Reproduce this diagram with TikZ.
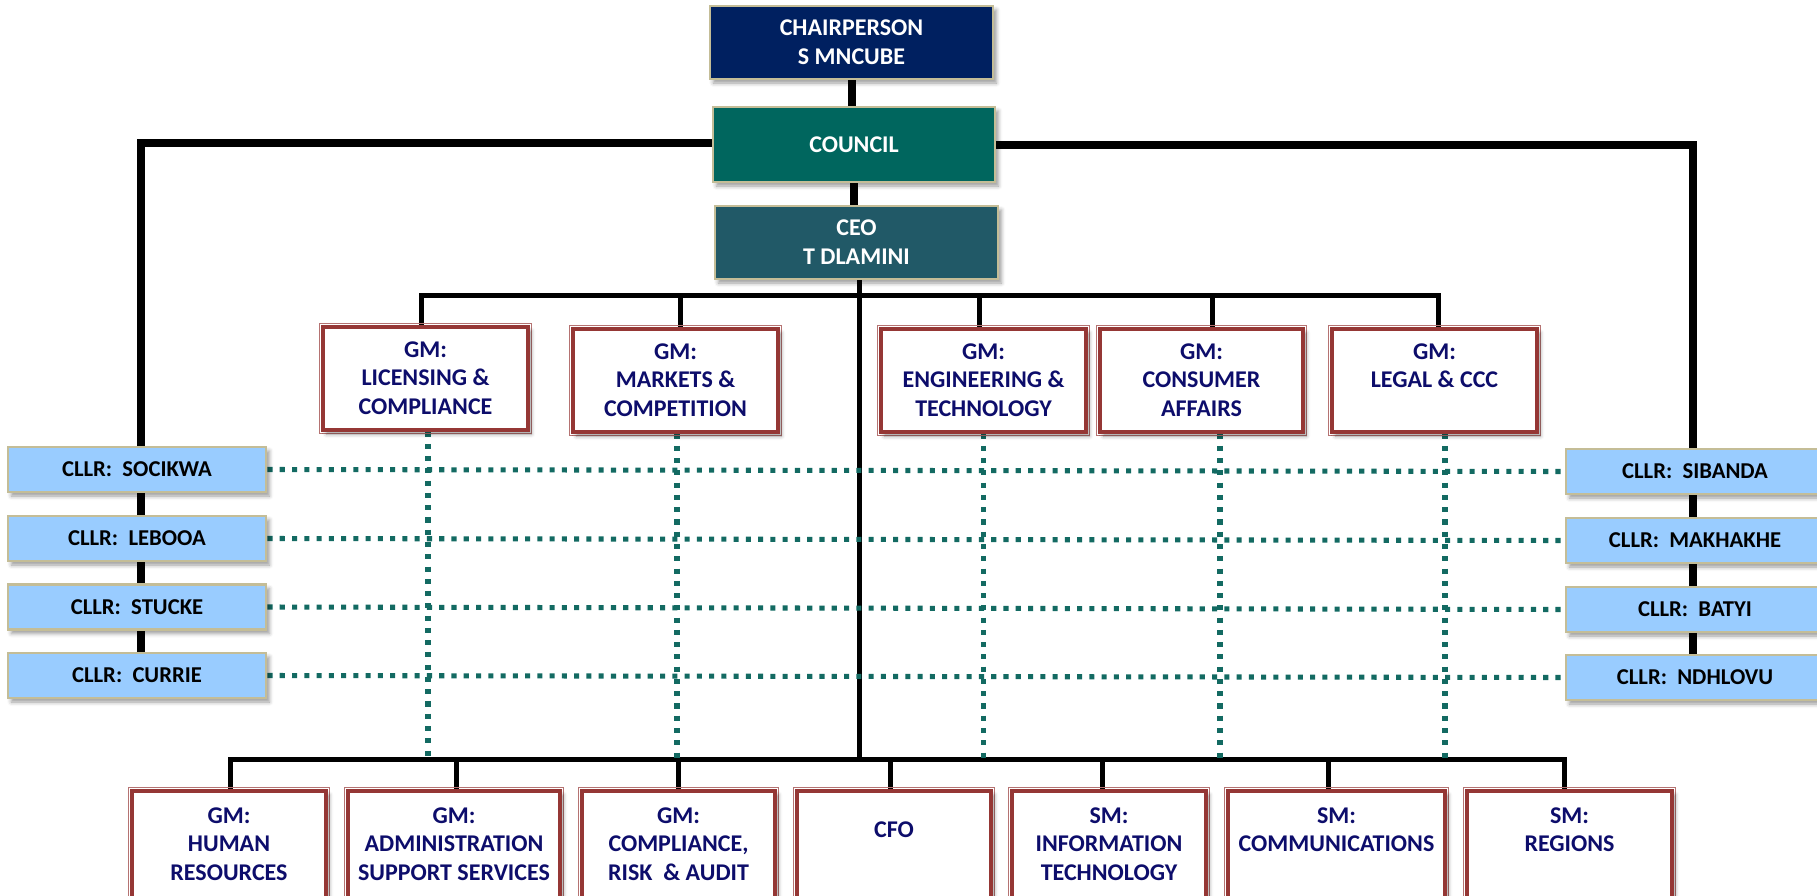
\documentclass[tikz,border=0pt]{standalone}
\usepackage{fontspec}
\setmainfont{Carlito}
\usetikzlibrary{shadows.blur}
\definecolor{chairc}{HTML}{002060}
\definecolor{councilc}{HTML}{00665E}
\definecolor{ceoc}{HTML}{215967}
\definecolor{tanc}{HTML}{C4BD97}
\definecolor{cllrc}{HTML}{99CCFF}
\definecolor{gmred}{HTML}{953735}
\definecolor{gmtxt}{HTML}{0D0D6B}
\definecolor{dotc}{HTML}{136A62}
\pgfdeclarelayer{bg}
\pgfsetlayers{bg,main}
\begin{document}
\begin{tikzpicture}[x=0.75pt,y=-0.75pt,
 sz/.style 2 args={minimum width=#1*0.75pt, minimum height=#2*0.75pt},
 shad/.style={blur shadow={shadow xshift=2.5pt, shadow yshift=-3pt, shadow blur radius=3pt, shadow opacity=40}},
 topbox/.style={shad, draw=tanc, line width=2.2pt, inner sep=0pt, text=white, font=\fontsize{18}{21.75}\selectfont\bfseries, align=center},
 cllr/.style={shad, draw=tanc, line width=2.2pt, fill=cllrc, inner sep=0pt, sz={258}{45}, font=\fontsize{17}{19}\selectfont\bfseries},
 gmbox/.style={shad, draw=gmred, fill=white, line width=2.4pt, inner sep=0pt,
   append after command={\pgfextra{\draw[gmred!70, line width=0.6pt]
     ([shift={(-1.7pt,-1.7pt)}]\tikzlastnode.south west) rectangle ([shift={(1.7pt,1.7pt)}]\tikzlastnode.north east);}}},
 gmtext/.style={text=gmtxt, font=\fontsize{18}{21.4}\selectfont\bfseries, align=center, inner sep=0pt, anchor=north},
 thickline/.style={line width=6pt, black, line join=miter},
 busline/.style={line width=3.75pt, black, line cap=rect},
 dots/.style={dotc, line width=3.8pt, dash pattern=on 3.8pt off 5.4pt}
]
\useasboundingbox (0,0) rectangle (1817,896);

% top boxes
\node[topbox, fill=chairc, sz={283}{73}] (chair) at (851.5,42.5) {CHAIRPERSON\\S MNCUBE};
\node[topbox, fill=councilc, sz={282}{75}] (council) at (854,144.5) {COUNCIL};
\node[topbox, fill=ceoc, sz={283}{73}] (ceo) at (856.5,242.5) {CEO\\T DLAMINI};

% upper GM boxes
\node[gmbox, sz={205}{103}] (lic) at (425.5,378.5) {};
\node[gmbox, sz={205}{103}] (mkt) at (675.5,380.5) {};
\node[gmbox, sz={205}{103}] (eng) at (983.5,380.5) {};
\node[gmbox, sz={203}{103}] (con) at (1201.5,380.5) {};
\node[gmbox, sz={205}{103}] (leg) at (1434.5,380.5) {};
\node[gmtext] (lict) at ([yshift=-12pt]lic.north) {GM:\\LICENSING \&\\COMPLIANCE};
\node[gmtext] (mktt) at ([yshift=-12pt]mkt.north) {GM:\\MARKETS \&\\COMPETITION};
\node[gmtext] (engt) at ([yshift=-12pt]eng.north) {GM:\\ENGINEERING \&\\TECHNOLOGY};
\node[gmtext] (cont) at ([yshift=-12pt]con.north) {GM:\\CONSUMER\\AFFAIRS};
\node[gmtext] (legt) at ([yshift=-12pt]leg.north) {GM:\\LEGAL \& CCC};

% councillors
\node[cllr] (soc) at (137,469.5) {CLLR:\ \ SOCIKWA};
\node[cllr] (leb) at (137,538.5) {CLLR:\ \ LEBOOA};
\node[cllr] (stu) at (137,607) {CLLR:\ \ STUCKE};
\node[cllr] (cur) at (137,675.5) {CLLR:\ \ CURRIE};
\node[cllr] (sib) at (1695,471.5) {CLLR:\ \ SIBANDA};
\node[cllr] (mak) at (1695,540.5) {CLLR:\ \ MAKHAKHE};
\node[cllr] (bat) at (1695,609.5) {CLLR:\ \ BATYI};
\node[cllr] (ndh) at (1695,677.5) {CLLR:\ \ NDHLOVU};

% lower boxes
\node[gmbox, sz={194}{120}] (hr) at (229,851) {};
\node[gmbox, sz={212}{120}] (adm) at (454,851) {};
\node[gmbox, sz={193}{120}] (cmp) at (678.5,851) {};
\node[gmbox, sz={194}{120}] (cfo) at (894,851) {};
\node[gmbox, sz={194}{120}] (it) at (1109,851) {};
\node[gmbox, sz={217}{120}] (com) at (1336.5,851) {};
\node[gmbox, sz={205}{120}] (reg) at (1569.5,851) {};
\node[gmtext] (hrt) at ([yshift=-13.5pt]hr.north) {GM:\\HUMAN\\RESOURCES};
\node[gmtext] (admt) at ([yshift=-13.5pt]adm.north) {GM:\\ADMINISTRATION\\SUPPORT SERVICES};
\node[gmtext] (cmpt) at ([yshift=-13.5pt]cmp.north) {GM:\\COMPLIANCE,\\RISK\ \ \& AUDIT};
\node[gmtext] (cfot) at ([yshift=-24pt]cfo.north) {CFO};
\node[gmtext] (itt) at ([yshift=-13.5pt]it.north) {SM:\\INFORMATION\\TECHNOLOGY};
\node[gmtext] (comt) at ([yshift=-13.5pt]com.north) {SM:\\COMMUNICATIONS};
\node[gmtext] (regt) at ([yshift=-13.5pt]reg.north) {SM:\\REGIONS};

\coordinate (cl) at (141,143);
\coordinate (cr) at (1693,145);
\coordinate (tbus) at (0,295);
\coordinate (bbus) at (0,759);

\begin{pgfonlayer}{bg}
\draw[thickline] (chair.south) -- (chair.south |- council.north);
\draw[thickline] (council.south) -- (council.south |- ceo.north);
\draw[thickline] (council.west |- cl) -- (cl) -- (cl |- cur.north);
\draw[thickline] (council.east |- cr) -- (cr) -- (cr |- ndh.north);
\draw[busline] ([xshift=2.6pt]ceo.south) -- ([xshift=2.6pt]ceo.south |- bbus);
% top bus
\draw[busline] ([xshift=-4.5*0.75pt]lic.north |- tbus) -- ([xshift=3.5*0.75pt]leg.north |- tbus);
\foreach \n/\dx in {lic/-4.5, mkt/4.5, eng/-4.5, con/10.5, leg/3.5}
  \draw[busline] ([xshift=\dx*0.75pt]\n.north) -- ([xshift=\dx*0.75pt]\n.north |- tbus);
% bottom bus
\draw[busline] ([xshift=1*0.75pt]hr.north |- bbus) -- ([xshift=-5.5*0.75pt]reg.north |- bbus);
\foreach \n/\dx in {hr/1, adm/2, cmp/-0.5, cfo/-4, it/-7, com/-8.5, reg/-5.5}
  \draw[busline] ([xshift=\dx*0.75pt]\n.north) -- ([xshift=\dx*0.75pt]\n.north |- bbus);
% dotted links
\foreach \n/\dx in {lic/2.5, mkt/1.5, eng/0, con/18.5, leg/10.5}
  \draw[dots] ([xshift=\dx*0.75pt]\n.south) -- ([xshift=\dx*0.75pt]\n.south |- bbus);
\draw[dots] (soc.east) -- (sib.west);
\draw[dots] (leb.east) -- (mak.west);
\draw[dots] (stu.east) -- (bat.west);
\draw[dots] (cur.east) -- (ndh.west);
\end{pgfonlayer}
\end{tikzpicture}
\end{document}
